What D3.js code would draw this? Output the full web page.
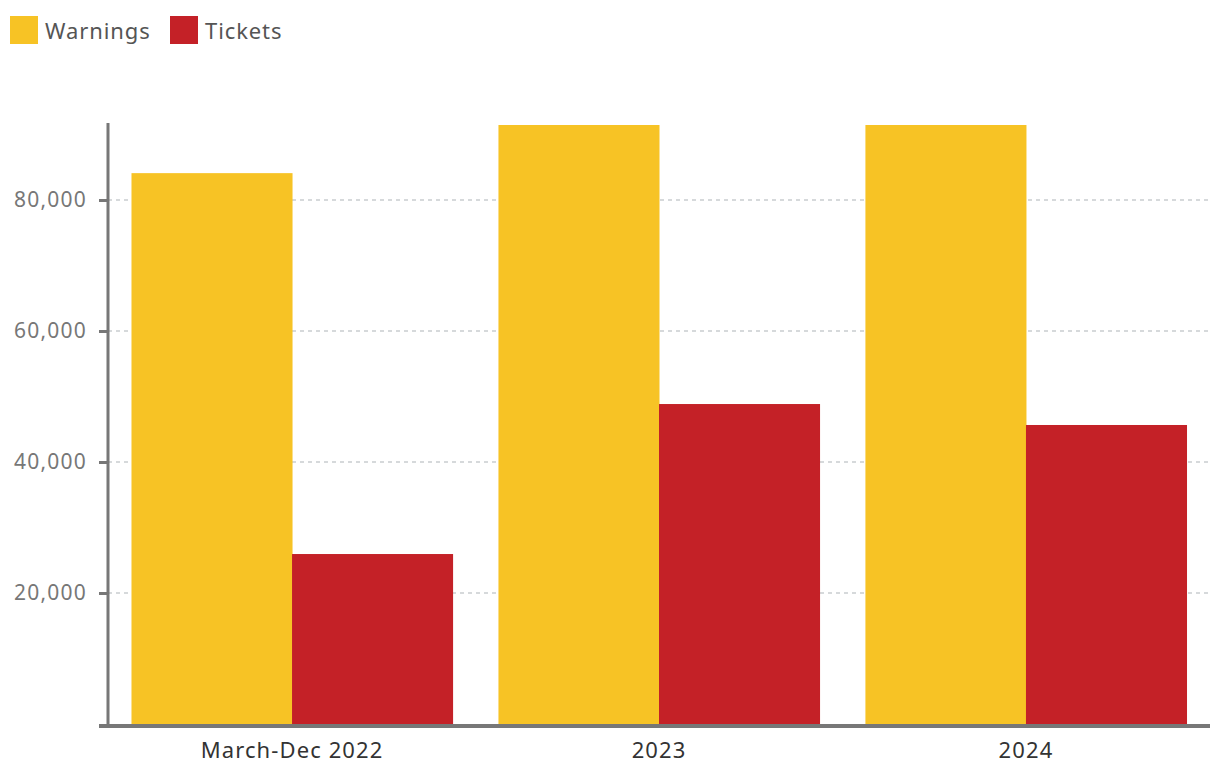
<!DOCTYPE html>
<html>
<head>
<meta charset="utf-8">
<script src="https://cdn.jsdelivr.net/npm/d3@7"></script>
<style>
    body { margin: 0; background: #fff; }
    svg { font-family: "Noto Sans", "Open Sans", sans-serif; }
</style>
</head>
<body>
<svg></svg>
<script>
// chart data
var periods = ["March-Dec 2022", "2023", "2024"];
var seriesNames = ["Warnings", "Tickets"];
var warnings = [84100, 91450, 91450];
var tickets = [25950, 48850, 45650];
var yTicks = [20000, 40000, 60000, 80000];

var colors = ["#f7c325", "#c42127"];

// svg configuration
var width = 1220;
var height = 778;
var svg = d3.select("svg")
    .attr("width", width)
    .attr("height", height);

var margin = {left: 108, top: 125, right: 10, bottom: 54};

var rows = periods.map(function(p, i) {
    return {period: p, values: [warnings[i], tickets[i]]};
});

// scales
var xScale = d3.scaleBand()
    .domain(periods)
    .range([margin.left, width - margin.right])
    .paddingInner(0.125)
    .paddingOuter(0.064);

var xSub = d3.scaleBand()
    .domain(seriesNames)
    .range([0, xScale.bandwidth()]);

var yScale = d3.scaleLinear()
    .domain([0, d3.max(warnings)])
    .range([height - margin.bottom, margin.top]);

// gridlines
svg.append("g")
    .selectAll("line")
    .data(yTicks)
    .enter()
    .append("line")
    .attr("x1", margin.left)
    .attr("x2", width - margin.right)
    .attr("y1", function(d) { return yScale(d); })
    .attr("y2", function(d) { return yScale(d); })
    .style("stroke", "#aeb3b7")
    .style("stroke-width", 1.2)
    .style("stroke-dasharray", "4,4");

// bars
var groups = svg.append("g")
    .selectAll("g")
    .data(rows)
    .enter()
    .append("g")
    .attr("transform", function(d) { return "translate(" + xScale(d.period) + ",0)"; });

groups.selectAll("rect")
    .data(function(d) { return d.values; })
    .enter()
    .append("rect")
    .attr("x", function(v, j) { return xSub(seriesNames[j]); })
    .attr("width", xSub.bandwidth() + 0.5)
    .attr("y", function(v) { return yScale(v); })
    .attr("height", function(v) { return yScale(0) - yScale(v); })
    .style("fill", function(v, j) { return colors[j]; });

// y axis
var yAxis = d3.axisLeft(yScale)
    .tickValues(yTicks)
    .tickFormat(d3.format(","))
    .tickSize(9)
    .tickPadding(12);

var yG = svg.append("g")
    .attr("transform", "translate(" + margin.left + ",0)")
    .call(yAxis);
yG.select(".domain").remove();
yG.selectAll(".tick line").style("stroke", "#777").style("stroke-width", 3);
yG.selectAll(".tick text")
    .style("fill", "#777")
    .style("font-size", "21px")
    .style("letter-spacing", "1.2px")
    .style("font-family", "Noto Sans, sans-serif");

svg.append("line")
    .attr("x1", margin.left)
    .attr("x2", margin.left)
    .attr("y1", margin.top - 2)
    .attr("y2", yScale(0) + 2)
    .style("stroke", "#777")
    .style("stroke-width", 3);

// x axis
var xAxis = d3.axisBottom(xScale)
    .tickSize(0)
    .tickPadding(16);

var xG = svg.append("g")
    .attr("transform", "translate(0," + (yScale(0) + 2) + ")")
    .call(xAxis);
xG.select(".domain").remove();
xG.selectAll(".tick text")
    .style("fill", "#333")
    .style("font-size", "22px")
    .style("letter-spacing", "1.1px")
    .style("font-family", "Noto Sans, sans-serif");

svg.append("line")
    .attr("x1", 99)
    .attr("x2", width - margin.right)
    .attr("y1", yScale(0) + 2)
    .attr("y2", yScale(0) + 2)
    .style("stroke", "#777")
    .style("stroke-width", 4);

// legend
var legend = svg.append("g").attr("id", "legend");
var legendX = [10, 170];
seriesNames.forEach(function(name, i) {
    legend.append("rect")
        .attr("x", legendX[i])
        .attr("y", 16)
        .attr("width", 28)
        .attr("height", 28)
        .style("fill", colors[i]);
    legend.append("text")
        .attr("x", legendX[i] + 35)
        .attr("y", 39)
        .style("fill", "#555")
        .style("font-size", "22px")
        .style("letter-spacing", "0.9px")
        .text(name);
});
</script>
</body>
</html>
